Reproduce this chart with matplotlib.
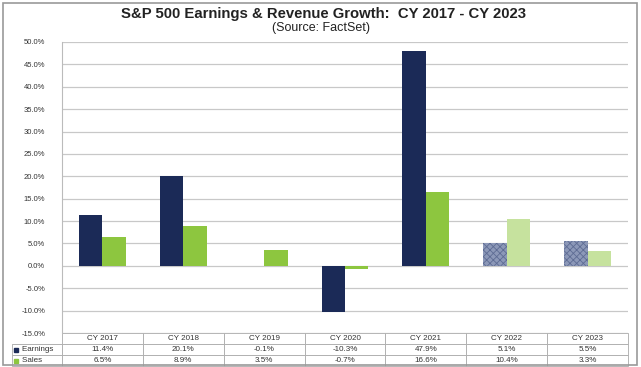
import numpy as np
import matplotlib.pyplot as plt
from matplotlib.patches import Rectangle

years = ['CY 2017', 'CY 2018', 'CY 2019', 'CY 2020', 'CY 2021', 'CY 2022', 'CY 2023']
earnings = [11.4, 20.1, -0.1, -10.3, 47.9, 5.1, 5.5]
sales = [6.5, 8.9, 3.5, -0.7, 16.6, 10.4, 3.3]
n_actual = 5  # 2022/2023 are estimates (hatched, lighter)

plt.rcParams['font.family'] = ['Liberation Sans', 'DejaVu Sans']
plt.rcParams['hatch.linewidth'] = 0.6

fig = plt.figure(figsize=(6.41, 3.67), dpi=100)
ax = fig.add_axes([62 / 641, 34 / 367, 566 / 641, 291 / 367])

x = np.arange(len(years))
w = 0.29
for i in range(len(years)):
    if i < n_actual:
        ax.bar(x[i] - w / 2, earnings[i], w, color='#1B2A57', linewidth=0)
        ax.bar(x[i] + w / 2, sales[i], w, color='#8DC63F', linewidth=0)
    else:
        ax.bar(x[i] - w / 2, earnings[i], w, color='#8C98B8', edgecolor='#5E6C94',
               hatch='xxxxx', linewidth=0)
        ax.bar(x[i] + w / 2, sales[i], w, color='#C6E29E', linewidth=0)

ax.set_xlim(-0.5, len(years) - 0.5)
ax.set_ylim(-15, 50)
ax.set_yticks(np.arange(-15, 51, 5))
ax.set_yticklabels([f'{v:.1f}%' for v in np.arange(-15, 51, 5)], fontsize=5.5, color='#333333')
ax.tick_params(axis='y', length=0, pad=12)
ax.set_xticks([])
ax.grid(axis='y', color='#c8c8c8', linewidth=0.9)
ax.set_axisbelow(True)
for s in ['top', 'right', 'bottom']:
    ax.spines[s].set_visible(False)
ax.spines['left'].set_color('#bbbbbb')

# data table under the plot, first column holds the series names
cell_text = [['    Earnings'] + [f'{v:.1f}%' for v in earnings],
             ['    Sales'] + [f'{v:.1f}%' for v in sales]]
lab_w = 50 / 566
col_w = [lab_w] + [1 / 7] * 7
tbl = ax.table(cellText=cell_text, colLabels=[''] + years, colWidths=col_w,
               cellLoc='center', bbox=[-lab_w, -33 / 291, 1 + lab_w, 33 / 291])
tbl.auto_set_font_size(False)
tbl.set_fontsize(5.8)
for (r, c), cell in tbl.get_celld().items():
    cell.set_edgecolor('#aaaaaa')
    cell.set_linewidth(0.6)
    cell.get_text().set_color('#333333')
    if c == 0:
        cell.get_text().set_ha('left')
        cell._loc = 'left'
        cell.PAD = 0.02
    if r == 0 and c == 0:
        cell.visible_edges = 'B'

# little legend keys in the table's name column
for yy, col in [(349.5, '#1B2A57'), (360.5, '#8DC63F')]:
    fig.patches.append(Rectangle((14 / 641, 1 - (yy + 2) / 367), 4 / 641, 4 / 367,
                                 transform=fig.transFigure, color=col))

fig.text(0.504, 1 - 14 / 367, 'S&P 500 Earnings & Revenue Growth:  CY 2017 - CY 2023',
         ha='center', va='center', fontsize=10.7, fontweight='bold', color='#222222')
fig.text(0.5, 1 - 28 / 367, '(Source: FactSet)', ha='center', va='center',
         fontsize=9, color='#222222')

fig.patches.append(Rectangle((3 / 641, 2 / 367), 634 / 641, 362 / 367, transform=fig.transFigure,
                             fill=False, edgecolor='#999999', linewidth=1.2))

fig.savefig('out.png', dpi=100)
